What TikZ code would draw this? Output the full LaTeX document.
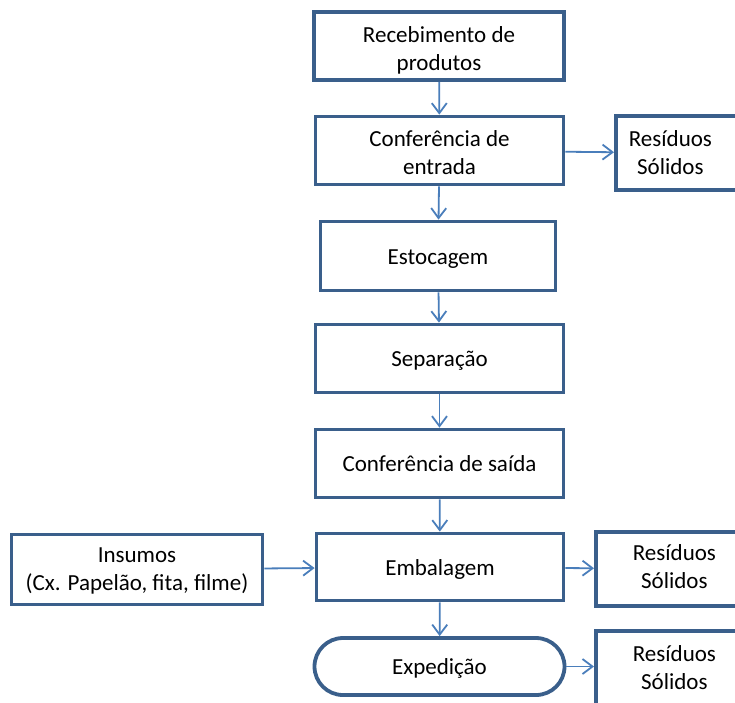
\documentclass[tikz,border=0pt]{standalone}
\usepackage{fontspec}
\setmainfont{Carlito}
\usetikzlibrary{arrows.meta,shapes.misc}
\definecolor{boxline}{HTML}{3A5F8B}
\definecolor{arrowline}{HTML}{4A7EBB}
\begin{document}
\begin{tikzpicture}[x=1pt,y=-1pt,
  font=\fontsize{23}{28}\selectfont,
  oneline/.style={text height=21pt, text depth=5pt},
  twoline/.style={text height=#1, text depth=0pt},
  stepbox/.style={draw=boxline, line width=3.8pt, fill=white, align=center, inner sep=0pt},
  flow/.style={draw=arrowline, line width=1.8pt, -{Straight Barb[length=10pt,width=15pt,line width=1.8pt]}}]
\clip (0,0) rectangle (735,702);
\fill[white] (0,0) rectangle (735,702);

\node[stepbox, twoline=49pt, minimum width=250, minimum height=68] (rec) at (439,46) {Recebimento de\\produtos};
\node[stepbox, twoline=48pt, minimum width=248, minimum height=68] (confe) at (439.5,150.5) {Confer\^encia de\\entrada};
\node[stepbox, oneline, minimum width=235, minimum height=69] (estoc) at (438,256) {Estocagem};
\node[stepbox, oneline, minimum width=248, minimum height=68] (separ) at (439.5,358.5) {Separa\c{c}\~ao};
\node[stepbox, oneline, minimum width=248, minimum height=68] (confs) at (439.5,463.5) {Confer\^encia de sa\'ida};
\node[stepbox, oneline, minimum width=247, minimum height=67] (embal) at (440,567) {Embalagem};
\node[stepbox, oneline, rounded rectangle, minimum width=250, minimum height=57] (exped) at (439.5,666.5) {Expedi\c{c}\~ao};

\node[stepbox, twoline=41pt, minimum width=251, minimum height=70] (insum) at (137,569.5) {Insumos\\(Cx. Papel\~ao, fita, filme)};

% residuos (cut by the right edge)
\node[stepbox, anchor=north west, minimum width=135, minimum height=74,
  label={[align=center, xshift=-13pt]center:Res\'iduos\\S\'olidos}] (res1) at (614,114) {};
\node[stepbox, anchor=north west, minimum width=155, minimum height=74,
  label={[align=center, xshift=1pt, yshift=2pt]center:Res\'iduos\\S\'olidos}] (res2) at (594,530) {};
\node[stepbox, anchor=north west, minimum width=155, minimum height=80,
  label={[align=center, xshift=1pt, yshift=3pt]center:Res\'iduos\\S\'olidos}] (res3) at (594,629) {};

\draw[flow] (rec) -- (confe);
\draw[flow] (confe) -- (estoc);
\draw[flow] (estoc) -- (separ);
\draw[flow] (separ) -- (confs);
\draw[flow] (confs) -- (embal);
\draw[flow] (embal) -- (exped);
\draw[flow] (insum) -- (embal);
\draw[flow] (confe) -- (res1);
\draw[flow] (embal) -- (res2);
\draw[flow] (exped.east) -- (res3.west |- exped.east);
\end{tikzpicture}
\end{document}
